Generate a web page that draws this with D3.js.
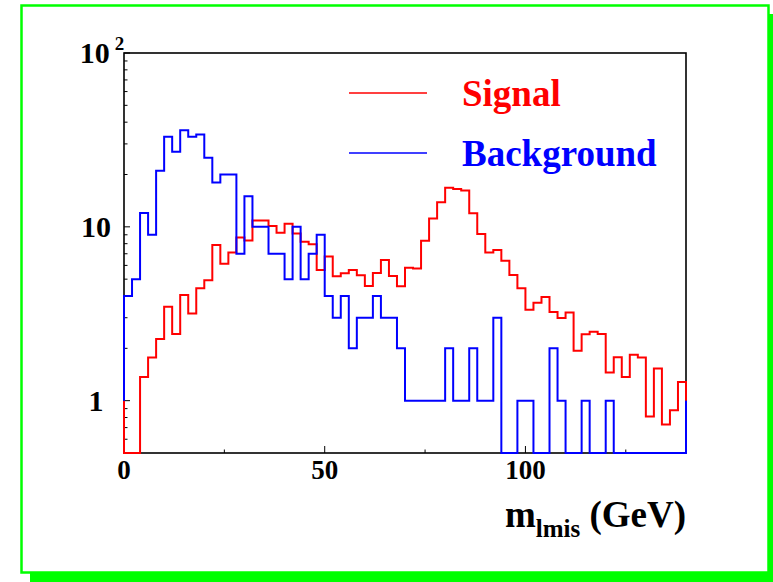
<!DOCTYPE html>
<html>
<head>
<meta charset="utf-8">
<script src="https://cdn.jsdelivr.net/npm/d3@7"></script>
<style>
  body { margin: 0; background: #fff; }
  svg { display: block; }
  text { font-family: "Liberation Serif", "Times New Roman", serif; font-weight: bold; }
</style>
</head>
<body>
<svg id="chart" width="773" height="582"></svg>
<script>
// Histogram binning: 70 bins of 2 GeV from 0 to 140 GeV
const binEdges = d3.range(0, 141, 2);

// Bin contents, signal sample (weighted)
const signal = [
  0, 0, 1.37, 1.77, 2.26, 3.47, 2.42, 4.06, 3.17, 4.43,
  4.93, 7.87, 6.14, 7.11, 8.67, 8.35, 10.86, 10.86, 10.1, 9.26,
  10.4, 9.14, 8.22, 7.94, 5.65, 6.74, 5.20, 5.41, 5.65, 5.27,
  4.57, 5.43, 6.45, 5.22, 4.55, 5.82, 5.75, 8.33, 11.15, 13.85,
  16.8, 16.5, 16.2, 11.97, 9.10, 7.11, 7.36, 6.39, 5.29, 4.43,
  3.33, 3.66, 3.95, 3.24, 2.99, 3.21, 1.94, 2.41, 2.49, 2.42,
  1.45, 1.78, 1.37, 1.84, 1.77, 0.81, 1.53, 0.73, 0.88, 1.28
];

// Bin contents, background sample (event counts)
const background = [
  4, 5, 12, 9, 21, 33, 27, 36, 33, 34,
  25, 18, 20, 20, 7, 15, 10, 10, 7, 7,
  5, 10, 5, 7, 9, 4, 3, 4, 2, 3,
  3, 4, 3, 3, 2, 1, 1, 1, 1, 1,
  2, 1, 1, 2, 1, 1, 3, 0, 0, 1,
  1, 0, 0, 2, 1, 0, 0, 1, 0, 0,
  1, 0, 0, 0, 0, 0, 0, 0, 0, 0
];

const seriesNames = ["Signal", "Background"];
const seriesColors = ["#ff0000", "#0000ff"];

const xDomain = [0, 140];
const yDomain = [0.5, 100];
const xMajorTicks = [0, 50, 100];
const xMinorTicks = [25, 75, 125];
const yMajorTicks = [1, 10, 100];
const yMinorTicks = [0.6, 0.7, 0.8, 0.9, 2, 3, 4, 5, 6, 7, 8, 9, 20, 30, 40, 50, 60, 70, 80, 90];

const svg = d3.select("#chart");

// Pad: white box with green border and drop shadow
svg.append("rect").attr("x", 30).attr("y", 14).attr("width", 760).attr("height", 568).attr("fill", "#00ff00");
svg.append("rect").attr("x", 21.5).attr("y", 5.5).attr("width", 747).attr("height", 567)
  .attr("fill", "#ffffff").attr("stroke", "#00ff00").attr("stroke-width", 2.5);

const frame = { left: 124, right: 686, top: 53, bottom: 453 };
const x = d3.scaleLinear().domain(xDomain).range([frame.left, frame.right]);
const y = d3.scaleLog().domain(yDomain).range([frame.bottom, frame.top]);

// Frame
svg.append("rect")
  .attr("x", frame.left).attr("y", frame.top)
  .attr("width", frame.right - frame.left).attr("height", frame.bottom - frame.top)
  .attr("fill", "none").attr("stroke", "#000").attr("stroke-width", 1.6);

// X axis ticks (inward) and labels
const gx = svg.append("g");
gx.selectAll("line.major").data(xMajorTicks).join("line")
  .attr("x1", d => x(d)).attr("x2", d => x(d))
  .attr("y1", frame.bottom).attr("y2", frame.bottom - 7)
  .attr("stroke", "#000").attr("stroke-width", 1);
gx.selectAll("line.minor").data(xMinorTicks).join("line")
  .attr("x1", d => x(d)).attr("x2", d => x(d))
  .attr("y1", frame.bottom).attr("y2", frame.bottom - 3.5)
  .attr("stroke", "#000").attr("stroke-width", 1);
gx.selectAll("text").data(xMajorTicks).join("text")
  .attr("x", d => x(d)).attr("y", 479)
  .attr("text-anchor", "middle").attr("font-size", 27)
  .text(d => d);

// Y axis ticks (inward) and labels
const gy = svg.append("g");
gy.selectAll("line.major").data(yMajorTicks).join("line")
  .attr("x1", frame.left).attr("x2", frame.left + 6)
  .attr("y1", d => y(d)).attr("y2", d => y(d))
  .attr("stroke", "#000").attr("stroke-width", 1);
gy.selectAll("line.minor").data(yMinorTicks).join("line")
  .attr("x1", frame.left).attr("x2", frame.left + 3.5)
  .attr("y1", d => y(d)).attr("y2", d => y(d))
  .attr("stroke", "#000").attr("stroke-width", 1);

const yLabels = gy.selectAll("text").data(yMajorTicks).join("text")
  .attr("x", 96).attr("y", d => y(d) + 10)
  .attr("text-anchor", "middle").attr("font-size", 30);
yLabels.each(function (d) {
  const t = d3.select(this);
  const exp = Math.round(Math.log10(d));
  if (exp >= 2) {
    t.append("tspan").text("10");
    t.append("tspan").attr("font-size", 19).attr("dx", 5).attr("dy", -13).text(exp);
    t.attr("x", 102);
  } else {
    t.text(d);
  }
});

// Histogram outlines (step polylines); empty bins fall to the frame bottom,
// the ends close at content 1
function histPoints(values) {
  const yv = v => (v > yDomain[0] ? y(v) : frame.bottom);
  const pts = [[x(binEdges[0]), y(1)]];
  values.forEach((v, i) => {
    pts.push([x(binEdges[i]), yv(v)]);
    pts.push([x(binEdges[i + 1]), yv(v)]);
  });
  pts.push([x(binEdges[binEdges.length - 1]), y(1)]);
  return pts;
}
const line = d3.line();
[signal, background].forEach((vals, k) => {
  svg.append("path")
    .attr("d", line(histPoints(vals)))
    .attr("fill", "none")
    .attr("stroke", seriesColors[k])
    .attr("stroke-width", 2)
    .attr("stroke-linejoin", "miter");
});

// Legend
const legendRows = [93, 153];
const lg = svg.append("g");
seriesNames.forEach((name, i) => {
  lg.append("line")
    .attr("x1", 349).attr("x2", 427)
    .attr("y1", legendRows[i]).attr("y2", legendRows[i])
    .attr("stroke", seriesColors[i]).attr("stroke-width", 1.5);
  lg.append("text")
    .attr("x", 462).attr("y", legendRows[i] + 12.5)
    .attr("font-size", 37).attr("fill", seriesColors[i])
    .text(name);
});

// X axis title
const xt = svg.append("text")
  .attr("x", frame.right).attr("y", 527)
  .attr("text-anchor", "end").attr("font-size", 37);
xt.append("tspan").text("m");
xt.append("tspan").attr("font-size", 25).attr("dy", 10).text("lmis");
xt.append("tspan").attr("dy", -10).text(" (GeV)");
</script>
</body>
</html>
